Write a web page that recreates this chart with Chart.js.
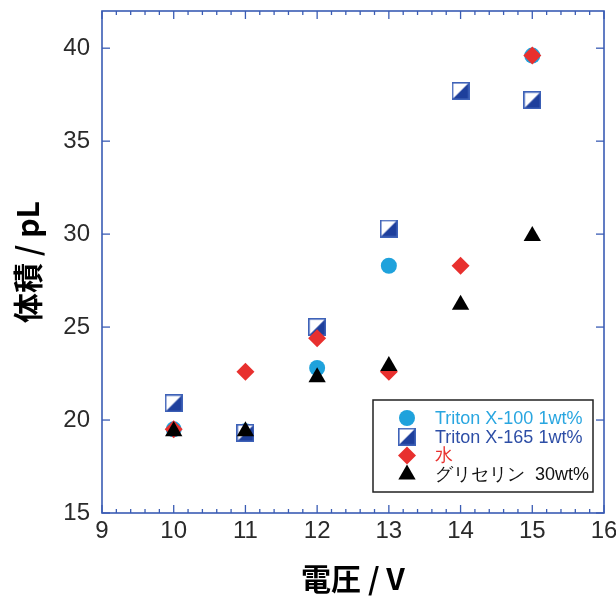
<!DOCTYPE html>
<html>
<head>
<meta charset="utf-8">
<script src="https://cdn.jsdelivr.net/npm/chart.js@4/dist/chart.umd.min.js"></script>
<style>
  html, body { margin: 0; padding: 0; background: #ffffff; }
  #wrap { width: 616px; height: 601px; }
</style>
</head>
<body>
<div id="wrap"><canvas id="c" width="616" height="601"></canvas></div>
<script>
// Drop volume vs. drive voltage for four liquids
const voltages   = [10, 11, 12, 13, 14, 15];
const tritonX100 = [19.5, 19.4, 22.8, 28.3, null, 39.6];
const tritonX165 = [20.9, 19.3, 25.0, 30.3, 37.7, 37.2];
const water      = [19.5, 22.6, 24.4, 22.6, 28.3, 39.6];
const glycerin   = [19.4, 19.4, 22.3, 22.9, 26.2, 29.9];

const seriesLabels = ['Triton X-100 1wt%', 'Triton X-165 1wt%', '水', 'グリセリン  30wt%'];
const xTicks = [9, 10, 11, 12, 13, 14, 15, 16];
const yTicks = [15, 20, 25, 30, 35, 40];
const xTitle = '電圧 / V';
const yTitle = '体積 / pL';

const AXIS_BLUE = '#3a5cb4';
const SANS = "'Liberation Sans', Arial, sans-serif";
const CJK_BOLD = "'Noto Sans CJK JP', 'Liberation Sans', sans-serif";

// Square marker, upper-left half white, lower-right half dark blue
function halfSquare(size) {
  const c = document.createElement('canvas');
  c.width = c.height = size;
  const g = c.getContext('2d');
  g.fillStyle = '#ffffff';
  g.fillRect(0, 0, size, size);
  g.fillStyle = '#1e3f9c';
  g.beginPath();
  g.moveTo(size, 0);
  g.lineTo(size, size);
  g.lineTo(0, size);
  g.closePath();
  g.fill();
  g.strokeStyle = '#3e62b8';
  g.lineWidth = 1.6;
  g.strokeRect(0.8, 0.8, size - 1.6, size - 1.6);
  return c;
}
const squareImg = halfSquare(18);

function pts(values) {
  return voltages.map((v, i) => ({ x: v, y: values[i] }));
}

const datasets = [
  { label: seriesLabels[0], data: pts(tritonX100), pointStyle: 'circle', pointRadius: 8,
    backgroundColor: '#1fa2dc', borderColor: '#1fa2dc', borderWidth: 0, order: 4, textColor: '#29a6e0' },
  { label: seriesLabels[1], data: pts(tritonX165), pointStyle: squareImg, pointRadius: 9,
    backgroundColor: '#1e3f9c', borderColor: '#1e3f9c', borderWidth: 0, order: 3, textColor: '#2d4ea6' },
  { label: seriesLabels[2], data: pts(water), pointStyle: 'rectRot', pointRadius: 9,
    backgroundColor: '#e8302e', borderColor: '#e8302e', borderWidth: 0, order: 2, textColor: '#e8302e' },
  { label: seriesLabels[3], data: pts(glycerin), pointStyle: 'triangle', pointRadius: 10,
    backgroundColor: '#000000', borderColor: '#000000', borderWidth: 0, order: 1, textColor: '#111111' }
];

// Frame with inward ticks on all four sides
const frameTicks = {
  id: 'frameTicks',
  afterDatasetsDraw(chart) {
    const { ctx, chartArea: a, scales: { x, y } } = chart;
    const seg = (x1, y1, x2, y2) => { ctx.beginPath(); ctx.moveTo(x1, y1); ctx.lineTo(x2, y2); ctx.stroke(); };
    ctx.save();
    ctx.strokeStyle = AXIS_BLUE;
    ctx.lineWidth = 1.3;
    for (let i = 0; i < xTicks.length; i++) {
      const px = x.getPixelForValue(xTicks[i]);
      seg(px, a.bottom, px, a.bottom - 8);
      seg(px, a.top, px, a.top + 8);
      if (i < xTicks.length - 1) {
        const step = (xTicks[i + 1] - xTicks[i]) / 5;
        for (let k = 1; k < 5; k++) {
          const pm = x.getPixelForValue(xTicks[i] + k * step);
          seg(pm, a.bottom, pm, a.bottom - 4);
          seg(pm, a.top, pm, a.top + 4);
        }
      }
    }
    for (const v of yTicks) {
      const py = y.getPixelForValue(v);
      seg(a.left, py, a.left + 8, py);
      seg(a.right, py, a.right - 8, py);
    }
    ctx.lineWidth = 1.6;
    ctx.strokeRect(a.left, a.top, a.right - a.left, a.bottom - a.top);
    ctx.restore();
  }
};

function drawMarker(ctx, ds, cx, cy) {
  const r = ds.pointRadius;
  ctx.fillStyle = ds.backgroundColor;
  if (ds.pointStyle instanceof HTMLCanvasElement) {
    ctx.drawImage(ds.pointStyle, cx - ds.pointStyle.width / 2, cy - ds.pointStyle.height / 2);
    return;
  }
  ctx.beginPath();
  if (ds.pointStyle === 'circle') {
    ctx.arc(cx, cy, r, 0, Math.PI * 2);
  } else if (ds.pointStyle === 'rectRot') {
    ctx.moveTo(cx - r, cy); ctx.lineTo(cx, cy - r); ctx.lineTo(cx + r, cy); ctx.lineTo(cx, cy + r);
  } else if (ds.pointStyle === 'triangle') {
    const h = r * Math.sqrt(3) / 2;
    ctx.moveTo(cx, cy - r * 0.95); ctx.lineTo(cx + h, cy + r * 0.55); ctx.lineTo(cx - h, cy + r * 0.55);
  }
  ctx.closePath();
  ctx.fill();
}

// Boxed legend in the lower right of the plot
const boxLegend = {
  id: 'boxLegend',
  afterDraw(chart) {
    const { ctx, chartArea: a } = chart;
    const right = a.right - 11, bottom = a.bottom - 21;
    const left = right - 220, top = bottom - 92;
    ctx.save();
    ctx.fillStyle = '#ffffff';
    ctx.fillRect(left, top, right - left, bottom - top);
    ctx.strokeStyle = '#222222';
    ctx.lineWidth = 1.5;
    ctx.strokeRect(left, top, right - left, bottom - top);
    ctx.font = '18px ' + SANS;
    ctx.textBaseline = 'middle';
    ctx.textAlign = 'left';
    chart.data.datasets.forEach((ds, i) => {
      const cy = top + 18 + i * 18.7;
      drawMarker(ctx, ds, left + 34, cy);
      ctx.fillStyle = ds.textColor;
      ctx.fillText(ds.label, left + 62, cy + 1);
    });
    ctx.restore();
  }
};

// Fixed scale boxes so the plot area lands at a set place
function fixBox(size, horizontal) {
  return s => {
    if (horizontal) s.height = size; else s.width = size;
    s.paddingTop = 0; s.paddingBottom = 0; s.paddingLeft = 0; s.paddingRight = 0;
  };
}

new Chart(document.getElementById('c'), {
  type: 'scatter',
  data: { datasets },
  options: {
    responsive: false,
    animation: false,
    devicePixelRatio: 1,
    layout: { padding: { top: 11, right: 12, left: 0, bottom: 0 } },
    plugins: { legend: { display: false }, tooltip: { enabled: false } },
    scales: {
      x: {
        type: 'linear', min: xTicks[0], max: xTicks[xTicks.length - 1],
        afterBuildTicks: s => { s.ticks = xTicks.map(v => ({ value: v })); },
        afterFit: fixBox(88, true),
        grid: { display: false, drawTicks: false },
        border: { display: false },
        ticks: { padding: 4, color: '#2a2a2a', font: { family: SANS, size: 24 }, maxRotation: 0 },
        title: { display: true, text: xTitle, color: '#000000', padding: { top: 4, bottom: 4 },
                 font: { family: CJK_BOLD, size: 30, weight: 'bold' } }
      },
      y: {
        type: 'linear', min: 15, max: 42,
        afterBuildTicks: s => { s.ticks = yTicks.map(v => ({ value: v })); },
        afterFit: fixBox(102, false),
        grid: { display: false, drawTicks: false },
        border: { display: false },
        ticks: { padding: 12, color: '#2a2a2a', font: { family: SANS, size: 24 } },
        title: { display: true, text: yTitle, color: '#000000', padding: { top: 10, bottom: 10 },
                 font: { family: CJK_BOLD, size: 30, weight: 'bold' } }
      }
    }
  },
  plugins: [frameTicks, boxLegend]
});
</script>
</body>
</html>
